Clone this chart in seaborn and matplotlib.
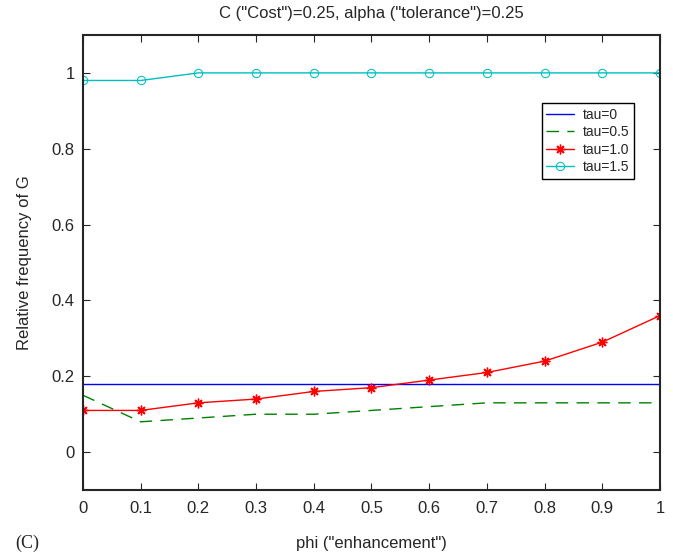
import matplotlib
matplotlib.use('agg')
import matplotlib.pyplot as plt
import seaborn as sns
import pandas as pd

# Values
phi = [0, 0.1, 0.2, 0.3, 0.4, 0.5, 0.6, 0.7, 0.8, 0.9, 1.0]
tau_0 = [0.18] * 11
tau_05 = [0.15, 0.08, 0.09, 0.10, 0.10, 0.11, 0.12, 0.13, 0.13, 0.13, 0.13]
tau_10 = [0.11, 0.11, 0.13, 0.14, 0.16, 0.17, 0.19, 0.21, 0.24, 0.29, 0.36]
tau_15 = [0.98, 0.98, 1.0, 1.0, 1.0, 1.0, 1.0, 1.0, 1.0, 1.0, 1.0]
x_ticks = [0, 0.1, 0.2, 0.3, 0.4, 0.5, 0.6, 0.7, 0.8, 0.9, 1]
x_tick_labels = ["0", "0.1", "0.2", "0.3", "0.4", "0.5", "0.6", "0.7", "0.8", "0.9", "1"]
y_ticks = [0, 0.2, 0.4, 0.6, 0.8, 1]
y_tick_labels = ["0", "0.2", "0.4", "0.6", "0.8", "1"]

sns.set_style("ticks")
plt.rcParams['font.family'] = ['Liberation Sans', 'DejaVu Sans']

fig = plt.figure(figsize=(6.73, 5.55), dpi=100)
ax = fig.add_axes([0.1233, 0.117, 0.8574, 0.820])

df = pd.DataFrame({"phi": phi, "t0": tau_0, "t05": tau_05, "t10": tau_10, "t15": tau_15})

sns.lineplot(data=df, x="phi", y="t0", ax=ax, color="blue", lw=1, label="tau=0")
sns.lineplot(data=df, x="phi", y="t05", ax=ax, color="green", lw=1,
             dashes=False, label="tau=0.5").lines[-1].set_dashes([9, 6])
sns.lineplot(data=df, x="phi", y="t10", ax=ax, color="red", lw=1, marker=(8, 2, 0),
             markersize=7, markeredgewidth=1, markeredgecolor="red", label="tau=1.0")
sns.lineplot(data=df, x="phi", y="t15", ax=ax, color="#00bfbf", lw=1, marker="o",
             markersize=6, markerfacecolor="none", markeredgecolor="#00bfbf",
             label="tau=1.5")

ax.set_xlim(0, 1)
ax.set_ylim(-0.1, 1.1)
ax.set_xticks(x_ticks)
ax.set_xticklabels(x_tick_labels)
ax.set_yticks(y_ticks)
ax.set_yticklabels(y_tick_labels)
ax.tick_params(direction="in", top=True, right=True, labelsize=12, length=5)
ax.tick_params(axis="x", pad=8)
ax.tick_params(axis="y", pad=6)
for s in ax.spines.values():
    s.set_linewidth(1.5)
    s.set_visible(True)

ax.set_title('C ("Cost")=0.25, alpha ("tolerance")=0.25', fontsize=12, pad=12)
ax.set_xlabel('phi ("enhancement")', fontsize=12, labelpad=14)
ax.set_ylabel('Relative frequency of G', fontsize=12, labelpad=14)

leg = ax.legend(loc="upper right", bbox_to_anchor=(0.967, 0.866), fontsize=10,
                handlelength=2.0, handletextpad=0.6, borderpad=0.35,
                labelspacing=0.25, fancybox=False, framealpha=1)
leg.get_frame().set_edgecolor("black")
leg.get_frame().set_linewidth(1)

fig.text(0.022, 0.013, "(C)", fontsize=13, family="Liberation Serif")

fig.savefig("out.png", dpi=100)
